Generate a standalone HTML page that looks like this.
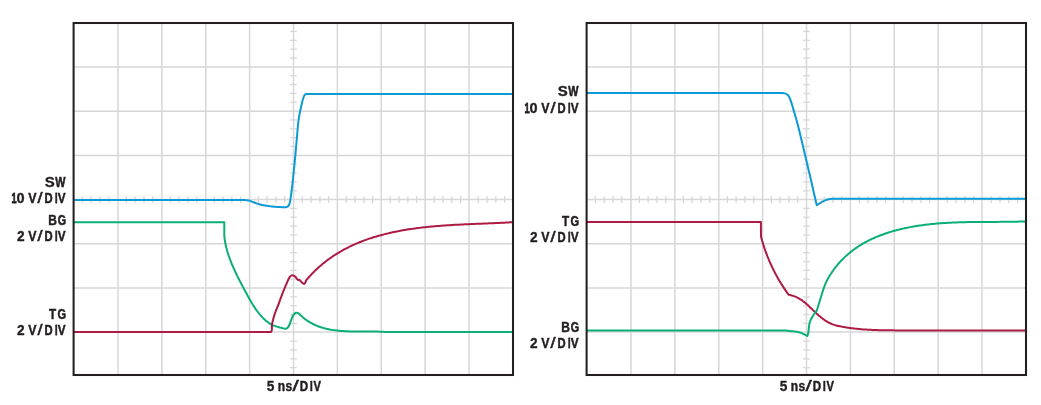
<!DOCTYPE html>
<html><head><meta charset="utf-8"><title>Switching waveforms</title>
<style>
html,body{margin:0;padding:0;background:#fff;}
body{width:1041px;height:405px;overflow:hidden;font-family:"Liberation Sans",sans-serif;}
svg{display:block;will-change:transform;}
</style></head><body>
<svg width="1041" height="405" viewBox="0 0 1041 405"><rect width="1041" height="405" fill="#fff"/><g stroke="#d7d7da" stroke-width="1.50" fill="none"><line x1="118.02" y1="23.00" x2="118.02" y2="375.00"/><line x1="161.89" y1="23.00" x2="161.89" y2="375.00"/><line x1="205.76" y1="23.00" x2="205.76" y2="375.00"/><line x1="249.63" y1="23.00" x2="249.63" y2="375.00"/><line x1="293.50" y1="23.00" x2="293.50" y2="375.00"/><line x1="337.37" y1="23.00" x2="337.37" y2="375.00"/><line x1="381.24" y1="23.00" x2="381.24" y2="375.00"/><line x1="425.11" y1="23.00" x2="425.11" y2="375.00"/><line x1="468.98" y1="23.00" x2="468.98" y2="375.00"/><line x1="74.15" y1="67.10" x2="512.85" y2="67.10"/><line x1="74.15" y1="111.26" x2="512.85" y2="111.26"/><line x1="74.15" y1="155.42" x2="512.85" y2="155.42"/><line x1="74.15" y1="199.58" x2="512.85" y2="199.58"/><line x1="74.15" y1="243.74" x2="512.85" y2="243.74"/><line x1="74.15" y1="287.90" x2="512.85" y2="287.90"/><line x1="74.15" y1="332.06" x2="512.85" y2="332.06"/></g><g stroke="#d7d7da" stroke-width="1.3" fill="none"><line x1="82.40" y1="196.13" x2="82.40" y2="203.03"/><line x1="91.19" y1="196.13" x2="91.19" y2="203.03"/><line x1="99.99" y1="196.13" x2="99.99" y2="203.03"/><line x1="108.78" y1="196.13" x2="108.78" y2="203.03"/><line x1="126.38" y1="196.13" x2="126.38" y2="203.03"/><line x1="135.17" y1="196.13" x2="135.17" y2="203.03"/><line x1="143.97" y1="196.13" x2="143.97" y2="203.03"/><line x1="152.76" y1="196.13" x2="152.76" y2="203.03"/><line x1="170.36" y1="196.13" x2="170.36" y2="203.03"/><line x1="179.15" y1="196.13" x2="179.15" y2="203.03"/><line x1="187.95" y1="196.13" x2="187.95" y2="203.03"/><line x1="196.74" y1="196.13" x2="196.74" y2="203.03"/><line x1="214.34" y1="196.13" x2="214.34" y2="203.03"/><line x1="223.13" y1="196.13" x2="223.13" y2="203.03"/><line x1="231.93" y1="196.13" x2="231.93" y2="203.03"/><line x1="240.72" y1="196.13" x2="240.72" y2="203.03"/><line x1="258.32" y1="196.13" x2="258.32" y2="203.03"/><line x1="267.11" y1="196.13" x2="267.11" y2="203.03"/><line x1="275.91" y1="196.13" x2="275.91" y2="203.03"/><line x1="284.70" y1="196.13" x2="284.70" y2="203.03"/><line x1="302.30" y1="196.13" x2="302.30" y2="203.03"/><line x1="311.09" y1="196.13" x2="311.09" y2="203.03"/><line x1="319.89" y1="196.13" x2="319.89" y2="203.03"/><line x1="328.68" y1="196.13" x2="328.68" y2="203.03"/><line x1="346.28" y1="196.13" x2="346.28" y2="203.03"/><line x1="355.07" y1="196.13" x2="355.07" y2="203.03"/><line x1="363.87" y1="196.13" x2="363.87" y2="203.03"/><line x1="372.66" y1="196.13" x2="372.66" y2="203.03"/><line x1="390.26" y1="196.13" x2="390.26" y2="203.03"/><line x1="399.05" y1="196.13" x2="399.05" y2="203.03"/><line x1="407.85" y1="196.13" x2="407.85" y2="203.03"/><line x1="416.64" y1="196.13" x2="416.64" y2="203.03"/><line x1="434.24" y1="196.13" x2="434.24" y2="203.03"/><line x1="443.03" y1="196.13" x2="443.03" y2="203.03"/><line x1="451.83" y1="196.13" x2="451.83" y2="203.03"/><line x1="460.62" y1="196.13" x2="460.62" y2="203.03"/><line x1="478.22" y1="196.13" x2="478.22" y2="203.03"/><line x1="487.01" y1="196.13" x2="487.01" y2="203.03"/><line x1="495.81" y1="196.13" x2="495.81" y2="203.03"/><line x1="504.60" y1="196.13" x2="504.60" y2="203.03"/><line x1="290.15" y1="31.47" x2="296.85" y2="31.47"/><line x1="290.15" y1="40.32" x2="296.85" y2="40.32"/><line x1="290.15" y1="49.16" x2="296.85" y2="49.16"/><line x1="290.15" y1="58.01" x2="296.85" y2="58.01"/><line x1="290.15" y1="75.71" x2="296.85" y2="75.71"/><line x1="290.15" y1="84.56" x2="296.85" y2="84.56"/><line x1="290.15" y1="93.40" x2="296.85" y2="93.40"/><line x1="290.15" y1="102.25" x2="296.85" y2="102.25"/><line x1="290.15" y1="119.95" x2="296.85" y2="119.95"/><line x1="290.15" y1="128.80" x2="296.85" y2="128.80"/><line x1="290.15" y1="137.64" x2="296.85" y2="137.64"/><line x1="290.15" y1="146.49" x2="296.85" y2="146.49"/><line x1="290.15" y1="164.19" x2="296.85" y2="164.19"/><line x1="290.15" y1="173.04" x2="296.85" y2="173.04"/><line x1="290.15" y1="181.88" x2="296.85" y2="181.88"/><line x1="290.15" y1="190.73" x2="296.85" y2="190.73"/><line x1="290.15" y1="208.43" x2="296.85" y2="208.43"/><line x1="290.15" y1="217.28" x2="296.85" y2="217.28"/><line x1="290.15" y1="226.12" x2="296.85" y2="226.12"/><line x1="290.15" y1="234.97" x2="296.85" y2="234.97"/><line x1="290.15" y1="252.67" x2="296.85" y2="252.67"/><line x1="290.15" y1="261.52" x2="296.85" y2="261.52"/><line x1="290.15" y1="270.36" x2="296.85" y2="270.36"/><line x1="290.15" y1="279.21" x2="296.85" y2="279.21"/><line x1="290.15" y1="296.91" x2="296.85" y2="296.91"/><line x1="290.15" y1="305.76" x2="296.85" y2="305.76"/><line x1="290.15" y1="314.60" x2="296.85" y2="314.60"/><line x1="290.15" y1="323.45" x2="296.85" y2="323.45"/><line x1="290.15" y1="341.15" x2="296.85" y2="341.15"/><line x1="290.15" y1="350.00" x2="296.85" y2="350.00"/><line x1="290.15" y1="358.84" x2="296.85" y2="358.84"/><line x1="290.15" y1="367.69" x2="296.85" y2="367.69"/></g><g stroke="#d7d7da" stroke-width="1.50" fill="none"><line x1="631.02" y1="23.00" x2="631.02" y2="375.00"/><line x1="674.89" y1="23.00" x2="674.89" y2="375.00"/><line x1="718.76" y1="23.00" x2="718.76" y2="375.00"/><line x1="762.63" y1="23.00" x2="762.63" y2="375.00"/><line x1="806.50" y1="23.00" x2="806.50" y2="375.00"/><line x1="850.37" y1="23.00" x2="850.37" y2="375.00"/><line x1="894.24" y1="23.00" x2="894.24" y2="375.00"/><line x1="938.11" y1="23.00" x2="938.11" y2="375.00"/><line x1="981.98" y1="23.00" x2="981.98" y2="375.00"/><line x1="587.15" y1="67.10" x2="1025.85" y2="67.10"/><line x1="587.15" y1="111.26" x2="1025.85" y2="111.26"/><line x1="587.15" y1="155.42" x2="1025.85" y2="155.42"/><line x1="587.15" y1="199.58" x2="1025.85" y2="199.58"/><line x1="587.15" y1="243.74" x2="1025.85" y2="243.74"/><line x1="587.15" y1="287.90" x2="1025.85" y2="287.90"/><line x1="587.15" y1="332.06" x2="1025.85" y2="332.06"/></g><g stroke="#d7d7da" stroke-width="1.3" fill="none"><line x1="595.40" y1="196.13" x2="595.40" y2="203.03"/><line x1="604.19" y1="196.13" x2="604.19" y2="203.03"/><line x1="612.99" y1="196.13" x2="612.99" y2="203.03"/><line x1="621.78" y1="196.13" x2="621.78" y2="203.03"/><line x1="639.38" y1="196.13" x2="639.38" y2="203.03"/><line x1="648.17" y1="196.13" x2="648.17" y2="203.03"/><line x1="656.97" y1="196.13" x2="656.97" y2="203.03"/><line x1="665.76" y1="196.13" x2="665.76" y2="203.03"/><line x1="683.36" y1="196.13" x2="683.36" y2="203.03"/><line x1="692.15" y1="196.13" x2="692.15" y2="203.03"/><line x1="700.95" y1="196.13" x2="700.95" y2="203.03"/><line x1="709.74" y1="196.13" x2="709.74" y2="203.03"/><line x1="727.34" y1="196.13" x2="727.34" y2="203.03"/><line x1="736.13" y1="196.13" x2="736.13" y2="203.03"/><line x1="744.93" y1="196.13" x2="744.93" y2="203.03"/><line x1="753.72" y1="196.13" x2="753.72" y2="203.03"/><line x1="771.32" y1="196.13" x2="771.32" y2="203.03"/><line x1="780.11" y1="196.13" x2="780.11" y2="203.03"/><line x1="788.91" y1="196.13" x2="788.91" y2="203.03"/><line x1="797.70" y1="196.13" x2="797.70" y2="203.03"/><line x1="815.30" y1="196.13" x2="815.30" y2="203.03"/><line x1="824.09" y1="196.13" x2="824.09" y2="203.03"/><line x1="832.89" y1="196.13" x2="832.89" y2="203.03"/><line x1="841.68" y1="196.13" x2="841.68" y2="203.03"/><line x1="859.28" y1="196.13" x2="859.28" y2="203.03"/><line x1="868.07" y1="196.13" x2="868.07" y2="203.03"/><line x1="876.87" y1="196.13" x2="876.87" y2="203.03"/><line x1="885.66" y1="196.13" x2="885.66" y2="203.03"/><line x1="903.26" y1="196.13" x2="903.26" y2="203.03"/><line x1="912.05" y1="196.13" x2="912.05" y2="203.03"/><line x1="920.85" y1="196.13" x2="920.85" y2="203.03"/><line x1="929.64" y1="196.13" x2="929.64" y2="203.03"/><line x1="947.24" y1="196.13" x2="947.24" y2="203.03"/><line x1="956.03" y1="196.13" x2="956.03" y2="203.03"/><line x1="964.83" y1="196.13" x2="964.83" y2="203.03"/><line x1="973.62" y1="196.13" x2="973.62" y2="203.03"/><line x1="991.22" y1="196.13" x2="991.22" y2="203.03"/><line x1="1000.01" y1="196.13" x2="1000.01" y2="203.03"/><line x1="1008.81" y1="196.13" x2="1008.81" y2="203.03"/><line x1="1017.60" y1="196.13" x2="1017.60" y2="203.03"/><line x1="803.15" y1="31.47" x2="809.85" y2="31.47"/><line x1="803.15" y1="40.32" x2="809.85" y2="40.32"/><line x1="803.15" y1="49.16" x2="809.85" y2="49.16"/><line x1="803.15" y1="58.01" x2="809.85" y2="58.01"/><line x1="803.15" y1="75.71" x2="809.85" y2="75.71"/><line x1="803.15" y1="84.56" x2="809.85" y2="84.56"/><line x1="803.15" y1="93.40" x2="809.85" y2="93.40"/><line x1="803.15" y1="102.25" x2="809.85" y2="102.25"/><line x1="803.15" y1="119.95" x2="809.85" y2="119.95"/><line x1="803.15" y1="128.80" x2="809.85" y2="128.80"/><line x1="803.15" y1="137.64" x2="809.85" y2="137.64"/><line x1="803.15" y1="146.49" x2="809.85" y2="146.49"/><line x1="803.15" y1="164.19" x2="809.85" y2="164.19"/><line x1="803.15" y1="173.04" x2="809.85" y2="173.04"/><line x1="803.15" y1="181.88" x2="809.85" y2="181.88"/><line x1="803.15" y1="190.73" x2="809.85" y2="190.73"/><line x1="803.15" y1="208.43" x2="809.85" y2="208.43"/><line x1="803.15" y1="217.28" x2="809.85" y2="217.28"/><line x1="803.15" y1="226.12" x2="809.85" y2="226.12"/><line x1="803.15" y1="234.97" x2="809.85" y2="234.97"/><line x1="803.15" y1="252.67" x2="809.85" y2="252.67"/><line x1="803.15" y1="261.52" x2="809.85" y2="261.52"/><line x1="803.15" y1="270.36" x2="809.85" y2="270.36"/><line x1="803.15" y1="279.21" x2="809.85" y2="279.21"/><line x1="803.15" y1="296.91" x2="809.85" y2="296.91"/><line x1="803.15" y1="305.76" x2="809.85" y2="305.76"/><line x1="803.15" y1="314.60" x2="809.85" y2="314.60"/><line x1="803.15" y1="323.45" x2="809.85" y2="323.45"/><line x1="803.15" y1="341.15" x2="809.85" y2="341.15"/><line x1="803.15" y1="350.00" x2="809.85" y2="350.00"/><line x1="803.15" y1="358.84" x2="809.85" y2="358.84"/><line x1="803.15" y1="367.69" x2="809.85" y2="367.69"/></g><path d="M73.50,222.20 L224.30,222.20 L224.30,235.70 C224.35,236.20 224.38,236.70 224.44,237.20 C224.49,237.71 224.55,238.21 224.62,238.72 C224.68,239.22 224.75,239.72 224.83,240.22 C224.90,240.72 224.99,241.22 225.07,241.72 C225.16,242.22 225.25,242.71 225.34,243.21 C225.44,243.70 225.53,244.19 225.64,244.69 C225.74,245.18 225.85,245.67 225.96,246.16 C226.07,246.65 226.19,247.13 226.31,247.62 C226.43,248.11 226.56,248.59 226.69,249.08 C226.81,249.56 226.95,250.04 227.08,250.53 C227.22,251.01 227.36,251.49 227.50,251.97 C227.65,252.45 227.79,252.92 227.94,253.40 C228.09,253.88 228.25,254.35 228.41,254.83 C228.56,255.30 228.72,255.78 228.89,256.25 C229.05,256.72 229.21,257.19 229.38,257.67 C229.55,258.14 229.72,258.61 229.90,259.07 C230.07,259.54 230.25,260.01 230.43,260.48 C230.61,260.95 230.79,261.41 230.97,261.88 C231.16,262.34 231.34,262.81 231.53,263.27 C231.72,263.73 231.91,264.19 232.11,264.66 C232.30,265.12 232.49,265.58 232.69,266.04 C232.89,266.50 233.09,266.96 233.29,267.42 C233.49,267.88 233.69,268.33 233.90,268.79 C234.10,269.25 234.31,269.70 234.52,270.16 C234.72,270.62 234.93,271.07 235.15,271.53 C235.36,271.98 235.57,272.44 235.79,272.89 C236.00,273.34 236.22,273.80 236.44,274.25 C236.66,274.70 236.88,275.15 237.10,275.60 C237.32,276.05 237.55,276.50 237.77,276.96 C238.00,277.41 238.22,277.86 238.45,278.30 C238.68,278.75 238.91,279.20 239.14,279.65 C239.37,280.10 239.60,280.55 239.83,281.00 C240.07,281.44 240.30,281.89 240.53,282.34 C240.77,282.79 241.00,283.23 241.24,283.68 C241.48,284.13 241.71,284.57 241.95,285.02 C242.19,285.47 242.43,285.91 242.66,286.36 C242.90,286.80 243.14,287.25 243.38,287.70 C243.62,288.14 243.86,288.59 244.09,289.03 C244.33,289.48 244.57,289.92 244.81,290.37 C245.05,290.81 245.29,291.26 245.52,291.70 C245.76,292.15 246.00,292.59 246.24,293.03 C246.47,293.48 246.71,293.92 246.95,294.37 C247.19,294.81 247.43,295.25 247.67,295.69 C247.91,296.14 248.15,296.58 248.39,297.02 C248.63,297.46 248.87,297.90 249.12,298.34 C249.36,298.78 249.61,299.21 249.85,299.65 C250.10,300.09 250.35,300.52 250.60,300.96 C250.85,301.39 251.10,301.82 251.35,302.25 C251.61,302.68 251.86,303.11 252.12,303.54 C252.38,303.97 252.64,304.40 252.90,304.82 C253.17,305.24 253.43,305.67 253.70,306.09 C253.97,306.51 254.24,306.92 254.52,307.34 C254.79,307.76 255.07,308.17 255.36,308.58 C255.64,308.99 255.92,309.40 256.21,309.81 C256.50,310.21 256.80,310.62 257.09,311.02 C257.39,311.42 257.69,311.82 258.00,312.21 C258.30,312.61 258.61,313.00 258.93,313.39 C259.24,313.78 259.56,314.17 259.88,314.55 C260.21,314.93 260.54,315.32 260.87,315.69 C261.21,316.07 261.55,316.44 261.89,316.81 C262.24,317.18 262.58,317.55 262.94,317.91 C263.30,318.27 263.66,318.62 264.02,318.97 C264.39,319.32 264.76,319.66 265.14,320.00 C265.52,320.34 265.90,320.66 266.29,320.99 C266.68,321.30 267.08,321.62 267.48,321.92 C267.88,322.22 268.29,322.52 268.70,322.80 C269.12,323.08 269.54,323.35 269.97,323.61 C270.39,323.87 270.82,324.12 271.26,324.36 C271.70,324.59 272.15,324.81 272.60,325.03 C273.05,325.24 273.51,325.44 273.97,325.63 C274.43,325.81 274.90,325.99 275.37,326.16 C275.84,326.33 276.32,326.49 276.80,326.64 C277.28,326.79 277.77,326.93 278.25,327.06 C278.74,327.20 279.23,327.33 279.72,327.45 C280.21,327.57 280.71,327.68 281.20,327.80 C282.43,328.10 283.66,328.59 284.90,328.70 C285.63,328.76 286.57,328.74 287.10,328.30 C288.04,327.51 288.73,326.19 289.30,325.00 C290.23,323.05 290.75,320.90 291.60,318.90 C292.25,317.36 292.86,315.73 293.80,314.40 C294.32,313.66 295.19,312.92 296.00,312.70 C296.66,312.52 297.57,312.82 298.20,313.20 C299.44,313.95 300.48,315.12 301.60,316.10 C301.99,316.44 302.36,316.81 302.75,317.15 C303.13,317.49 303.53,317.82 303.93,318.15 C304.32,318.47 304.72,318.79 305.12,319.10 C305.52,319.41 305.93,319.71 306.34,320.00 C306.75,320.29 307.16,320.58 307.57,320.86 C307.99,321.14 308.40,321.41 308.82,321.67 C309.24,321.94 309.67,322.19 310.09,322.44 C310.52,322.69 310.95,322.94 311.38,323.17 C311.81,323.41 312.24,323.64 312.68,323.86 C313.12,324.08 313.55,324.30 314.00,324.51 C314.44,324.72 314.88,324.92 315.33,325.12 C315.77,325.32 316.22,325.51 316.67,325.70 C317.13,325.88 317.58,326.06 318.03,326.23 C318.49,326.41 318.95,326.58 319.41,326.74 C319.87,326.90 320.33,327.06 320.79,327.21 C321.26,327.36 321.72,327.51 322.19,327.65 C322.66,327.79 323.13,327.92 323.60,328.05 C324.07,328.19 324.55,328.31 325.02,328.43 C325.50,328.55 325.98,328.67 326.45,328.78 C326.93,328.89 327.41,329.00 327.89,329.10 C328.38,329.20 328.86,329.30 329.35,329.40 C329.83,329.49 330.32,329.58 330.80,329.67 C331.29,329.75 331.78,329.83 332.27,329.91 C332.76,329.99 333.25,330.06 333.75,330.13 C334.24,330.20 334.73,330.27 335.23,330.33 C335.73,330.40 336.22,330.46 336.72,330.52 C337.22,330.57 337.71,330.63 338.21,330.68 C338.71,330.73 339.21,330.77 339.71,330.82 C340.21,330.86 340.72,330.91 341.22,330.95 C341.72,330.98 342.23,331.02 342.73,331.06 C343.23,331.09 343.74,331.12 344.24,331.15 C344.75,331.18 345.25,331.21 345.76,331.23 C346.27,331.26 346.77,331.28 347.28,331.30 C347.79,331.32 348.30,331.34 348.80,331.36 C349.31,331.37 349.82,331.39 350.33,331.40 C350.84,331.41 351.35,331.43 351.86,331.44 C352.37,331.45 352.88,331.46 353.38,331.46 C353.89,331.47 354.40,331.48 354.91,331.48 C355.42,331.49 355.93,331.49 356.44,331.50 C356.95,331.50 357.46,331.50 357.97,331.50 C358.48,331.51 358.99,331.51 359.50,331.51 C360.01,331.51 360.52,331.51 361.03,331.51 C361.53,331.51 362.04,331.51 362.55,331.50 C363.06,331.50 363.57,331.50 364.07,331.50 C364.58,331.50 365.09,331.50 365.59,331.50 C366.10,331.50 366.61,331.49 367.11,331.49 C367.62,331.49 368.12,331.49 368.62,331.49 C369.13,331.49 369.63,331.49 370.13,331.49 C370.64,331.50 371.14,331.50 371.64,331.50 C372.14,331.50 372.64,331.51 373.14,331.51 C373.64,331.52 374.13,331.52 374.63,331.53 C375.13,331.53 375.62,331.54 376.12,331.55 C376.61,331.56 377.11,331.57 377.60,331.58 C378.09,331.60 378.58,331.61 379.08,331.63 C379.57,331.64 380.05,331.66 380.54,331.68 C381.03,331.70 381.52,331.72 382.00,331.74 C382.49,331.76 382.97,331.79 383.45,331.82 C383.93,331.84 384.42,331.87 384.90,331.90 L512.90,331.90" fill="none" stroke="#0aae77" stroke-width="2.00" stroke-linejoin="round" stroke-linecap="butt"/><path d="M73.60,332.00 L270.80,332.00 C271.00,331.83 271.29,331.72 271.40,331.50 C271.62,331.06 271.74,330.51 271.80,330.00 C271.90,329.18 271.87,328.33 271.90,327.50 C271.94,326.57 271.85,325.62 272.00,324.70 C272.32,322.72 272.77,320.74 273.30,318.80 C274.03,316.14 274.87,313.50 275.80,310.90 C276.53,308.86 277.52,306.92 278.30,304.90 C278.95,303.22 279.47,301.49 280.10,299.80 C281.37,296.42 282.66,293.05 284.00,289.70 C284.93,287.38 285.89,285.08 286.90,282.80 C287.69,281.01 288.44,279.18 289.40,277.50 C289.77,276.85 290.32,276.26 290.90,275.80 C291.29,275.49 291.83,275.22 292.30,275.20 C292.79,275.18 293.35,275.43 293.80,275.70 C294.52,276.13 295.22,276.69 295.80,277.30 C296.39,277.92 296.73,278.77 297.30,279.40 C297.57,279.70 297.97,279.87 298.30,280.10 L299.30,279.80 L300.20,280.60 C300.70,281.17 301.17,281.77 301.70,282.30 C302.17,282.77 302.65,283.25 303.20,283.60 C303.49,283.78 303.87,283.80 304.20,283.90 C304.53,283.53 304.96,283.23 305.20,282.80 C305.63,282.03 305.78,281.08 306.20,280.30 C306.45,279.84 306.87,279.49 307.21,279.09 C307.56,278.69 307.90,278.30 308.25,277.90 C308.59,277.51 308.94,277.12 309.29,276.73 C309.64,276.34 309.99,275.95 310.34,275.57 C310.70,275.19 311.05,274.81 311.41,274.43 C311.76,274.06 312.12,273.68 312.48,273.31 C312.84,272.94 313.20,272.57 313.56,272.21 C313.93,271.84 314.29,271.48 314.66,271.12 C315.02,270.76 315.39,270.40 315.76,270.05 C316.13,269.70 316.50,269.34 316.87,269.00 C317.25,268.65 317.62,268.30 318.00,267.96 C318.37,267.62 318.75,267.28 319.13,266.94 C319.51,266.60 319.89,266.27 320.27,265.94 C320.65,265.61 321.03,265.28 321.42,264.95 C321.80,264.63 322.19,264.30 322.58,263.98 C322.96,263.66 323.35,263.34 323.74,263.03 C324.13,262.71 324.53,262.40 324.92,262.09 C325.31,261.78 325.71,261.47 326.10,261.17 C326.50,260.86 326.90,260.56 327.30,260.26 C327.70,259.96 328.10,259.66 328.50,259.37 C328.90,259.08 329.30,258.78 329.71,258.49 C330.11,258.21 330.52,257.92 330.93,257.63 C331.34,257.35 331.74,257.07 332.16,256.79 C332.56,256.51 332.98,256.23 333.39,255.96 C333.80,255.68 334.22,255.41 334.63,255.14 C335.05,254.87 335.46,254.61 335.88,254.34 C336.30,254.08 336.72,253.81 337.14,253.55 C337.56,253.30 337.98,253.04 338.41,252.78 C338.83,252.53 339.25,252.28 339.68,252.02 C340.10,251.77 340.53,251.53 340.96,251.28 C341.39,251.04 341.82,250.79 342.25,250.55 C342.68,250.31 343.11,250.07 343.54,249.84 C343.97,249.60 344.41,249.36 344.84,249.13 C345.28,248.90 345.71,248.67 346.15,248.44 C346.59,248.22 347.02,247.99 347.46,247.77 C347.90,247.55 348.34,247.32 348.79,247.11 C349.23,246.89 349.67,246.67 350.11,246.46 C350.56,246.24 351.00,246.03 351.45,245.82 C351.89,245.61 352.34,245.40 352.79,245.20 C353.24,244.99 353.69,244.79 354.14,244.59 C354.59,244.39 355.04,244.19 355.49,243.99 C355.94,243.79 356.40,243.60 356.85,243.40 C357.30,243.21 357.76,243.02 358.21,242.83 C358.67,242.64 359.13,242.45 359.58,242.27 C360.04,242.08 360.50,241.90 360.96,241.72 C361.42,241.54 361.88,241.36 362.34,241.18 C362.80,241.00 363.27,240.83 363.73,240.65 C364.19,240.48 364.66,240.31 365.12,240.14 C365.59,239.97 366.05,239.80 366.52,239.64 C366.99,239.47 367.46,239.31 367.92,239.14 C368.39,238.98 368.86,238.82 369.33,238.66 C369.80,238.50 370.27,238.35 370.74,238.19 C371.22,238.04 371.69,237.88 372.16,237.73 C372.64,237.58 373.11,237.43 373.58,237.28 C374.06,237.14 374.53,236.99 375.01,236.85 C375.49,236.70 375.96,236.56 376.44,236.42 C376.92,236.28 377.40,236.14 377.88,236.00 C378.36,235.86 378.84,235.73 379.32,235.59 C379.80,235.46 380.28,235.33 380.76,235.19 C381.24,235.06 381.72,234.93 382.21,234.81 C382.69,234.68 383.17,234.55 383.66,234.43 C384.14,234.30 384.63,234.18 385.11,234.06 C385.60,233.94 386.09,233.82 386.57,233.70 C387.06,233.58 387.55,233.46 388.03,233.35 C388.52,233.23 389.01,233.12 389.50,233.01 C389.99,232.90 390.48,232.79 390.97,232.68 C391.46,232.57 391.95,232.46 392.44,232.35 C392.93,232.25 393.42,232.14 393.92,232.04 C394.41,231.93 394.90,231.83 395.39,231.73 C395.89,231.63 396.38,231.53 396.88,231.43 C397.37,231.34 397.86,231.24 398.36,231.14 C398.85,231.05 399.35,230.95 399.85,230.86 C400.34,230.77 400.84,230.68 401.33,230.59 C401.83,230.50 402.33,230.41 402.83,230.32 C403.32,230.23 403.82,230.15 404.32,230.06 C404.82,229.98 405.32,229.89 405.82,229.81 C406.31,229.73 406.81,229.65 407.31,229.57 C407.81,229.49 408.31,229.41 408.81,229.33 C409.31,229.25 409.81,229.18 410.32,229.10 C410.82,229.03 411.32,228.95 411.82,228.88 C412.32,228.81 412.82,228.74 413.33,228.66 C413.83,228.59 414.33,228.52 414.83,228.46 C415.34,228.39 415.84,228.32 416.34,228.25 C416.85,228.19 417.35,228.12 417.85,228.06 C418.36,227.99 418.86,227.93 419.37,227.87 C419.87,227.80 420.38,227.74 420.88,227.68 C421.39,227.62 421.89,227.56 422.40,227.50 C422.90,227.45 423.41,227.39 423.91,227.33 C424.42,227.28 424.93,227.22 425.43,227.16 C425.94,227.11 426.45,227.06 426.95,227.00 C427.46,226.95 427.97,226.90 428.47,226.85 C428.98,226.80 429.49,226.75 430.00,226.70 C430.50,226.65 431.01,226.60 431.52,226.55 C432.03,226.50 432.53,226.46 433.04,226.41 C433.55,226.36 434.06,226.32 434.57,226.27 C435.07,226.23 435.58,226.19 436.09,226.14 C436.60,226.10 437.11,226.06 437.62,226.02 C438.12,225.97 438.63,225.93 439.14,225.89 C439.65,225.85 440.16,225.81 440.67,225.77 C441.18,225.74 441.69,225.70 442.20,225.66 C442.71,225.62 443.21,225.59 443.72,225.55 C444.23,225.51 444.74,225.48 445.25,225.44 C445.76,225.41 446.27,225.37 446.78,225.34 C447.29,225.31 447.80,225.27 448.31,225.24 C448.82,225.21 449.33,225.17 449.83,225.14 C450.34,225.11 450.85,225.08 451.36,225.05 C451.87,225.02 452.38,224.99 452.89,224.96 C453.40,224.93 453.91,224.90 454.42,224.87 C454.93,224.84 455.44,224.82 455.95,224.79 C456.45,224.76 456.96,224.73 457.47,224.71 C457.98,224.68 458.49,224.65 459.00,224.63 C459.51,224.60 460.02,224.57 460.52,224.55 C461.03,224.52 461.54,224.50 462.05,224.47 C462.56,224.45 463.07,224.43 463.57,224.40 C464.08,224.38 464.59,224.35 465.10,224.33 C465.61,224.31 466.11,224.28 466.62,224.26 C467.13,224.24 467.64,224.22 468.14,224.19 C468.65,224.17 469.16,224.15 469.66,224.13 C470.17,224.10 470.68,224.08 471.18,224.06 C471.69,224.04 472.20,224.02 472.70,224.00 C473.21,223.98 473.71,223.96 474.22,223.93 C474.73,223.91 475.23,223.89 475.74,223.87 C476.24,223.85 476.75,223.83 477.25,223.81 C477.76,223.79 478.26,223.77 478.76,223.75 C479.27,223.73 479.77,223.71 480.28,223.69 C480.78,223.67 481.28,223.65 481.79,223.63 C482.29,223.61 482.79,223.59 483.30,223.57 C483.80,223.55 484.30,223.53 484.80,223.51 C485.30,223.49 485.81,223.47 486.31,223.45 C486.81,223.43 487.31,223.41 487.81,223.39 C488.31,223.37 488.81,223.35 489.31,223.33 C489.81,223.31 490.31,223.29 490.81,223.27 C491.31,223.25 491.81,223.23 492.31,223.21 C492.80,223.19 493.30,223.17 493.80,223.15 C494.30,223.13 494.80,223.10 495.29,223.08 C495.79,223.06 496.29,223.04 496.78,223.02 C497.28,223.00 497.77,222.97 498.27,222.95 C498.77,222.93 499.26,222.91 499.75,222.88 C500.25,222.86 500.74,222.84 501.24,222.82 C501.73,222.79 502.22,222.77 502.72,222.74 C503.21,222.72 503.70,222.70 504.19,222.67 C504.68,222.65 505.18,222.62 505.67,222.60 C506.16,222.57 506.65,222.55 507.14,222.52 C507.63,222.50 508.12,222.47 508.60,222.44 C509.09,222.42 509.58,222.39 510.07,222.36 C510.56,222.33 511.04,222.30 511.53,222.28 C512.02,222.25 512.51,222.23 513.00,222.20" fill="none" stroke="#ad1a44" stroke-width="2.00" stroke-linejoin="round" stroke-linecap="butt"/><path d="M73.85,200.00 L243.25,200.00 C244.25,200.07 245.26,200.07 246.25,200.20 C247.52,200.37 248.82,200.52 250.05,200.90 C251.76,201.42 253.36,202.29 255.05,202.90 C256.66,203.49 258.29,204.06 259.95,204.50 C261.56,204.93 263.21,205.22 264.85,205.50 C266.51,205.78 268.18,206.00 269.85,206.20 C271.48,206.40 273.12,206.55 274.75,206.70 C276.38,206.85 278.01,207.00 279.65,207.10 C281.31,207.20 282.99,207.30 284.65,207.30 C285.32,207.30 286.04,207.32 286.65,207.10 C287.24,206.89 287.84,206.48 288.25,206.00 C288.81,205.35 289.27,204.52 289.55,203.70 C289.97,202.46 290.13,201.11 290.35,199.80 C290.63,198.14 290.81,196.47 291.05,194.80 C291.28,193.17 291.54,191.54 291.75,189.90 C291.97,188.24 292.16,186.57 292.35,184.90 C292.53,183.27 292.68,181.63 292.85,180.00 C293.68,171.77 294.58,163.54 295.35,155.30 C296.14,146.87 296.81,138.43 297.55,130.00 C297.75,127.77 297.89,125.53 298.15,123.30 C298.39,121.23 298.72,119.16 299.05,117.10 C299.35,115.23 299.68,113.36 300.05,111.50 C300.41,109.66 300.83,107.83 301.25,106.00 C301.63,104.33 302.01,102.66 302.45,101.00 C302.81,99.66 303.17,98.30 303.65,97.00 C303.91,96.30 304.23,95.59 304.65,95.00 C304.89,94.66 305.26,94.33 305.65,94.20 C306.29,93.99 307.05,94.02 307.75,94.00 C309.25,93.95 310.75,94.00 312.25,94.00 L513.25,94.00" fill="none" stroke="#0b9ad5" stroke-width="2.00" stroke-linejoin="round" stroke-linecap="butt"/><path d="M586.60,222.00 L760.90,222.00 L761.00,236.50 C761.12,236.98 761.24,237.47 761.37,237.95 C761.50,238.44 761.63,238.92 761.77,239.40 C761.90,239.88 762.04,240.36 762.17,240.85 C762.31,241.33 762.45,241.81 762.60,242.29 C762.74,242.77 762.88,243.25 763.03,243.73 C763.18,244.21 763.33,244.69 763.48,245.17 C763.63,245.65 763.78,246.12 763.94,246.60 C764.10,247.08 764.25,247.56 764.41,248.03 C764.58,248.51 764.74,248.99 764.90,249.46 C765.07,249.94 765.23,250.41 765.40,250.89 C765.57,251.36 765.74,251.84 765.92,252.31 C766.09,252.78 766.27,253.25 766.44,253.73 C766.62,254.20 766.80,254.67 766.98,255.14 C767.16,255.61 767.35,256.08 767.53,256.55 C767.72,257.02 767.91,257.49 768.10,257.95 C768.29,258.42 768.48,258.89 768.68,259.35 C768.87,259.82 769.07,260.29 769.27,260.75 C769.46,261.22 769.66,261.68 769.87,262.14 C770.07,262.60 770.27,263.07 770.48,263.53 C770.69,263.99 770.90,264.45 771.11,264.91 C771.32,265.37 771.53,265.83 771.75,266.28 C771.96,266.74 772.18,267.20 772.40,267.65 C772.62,268.11 772.84,268.56 773.06,269.02 C773.28,269.47 773.51,269.92 773.73,270.38 C773.96,270.83 774.19,271.28 774.42,271.73 C774.65,272.18 774.88,272.62 775.12,273.07 C775.35,273.52 775.59,273.97 775.83,274.41 C776.06,274.86 776.31,275.30 776.55,275.74 C776.79,276.19 777.03,276.63 777.28,277.07 C777.53,277.51 777.77,277.95 778.02,278.39 C778.27,278.83 778.53,279.26 778.78,279.70 C779.03,280.13 779.29,280.57 779.55,281.00 C779.80,281.44 780.06,281.87 780.32,282.30 C780.58,282.73 780.85,283.16 781.11,283.59 C781.38,284.02 781.64,284.44 781.91,284.87 C782.18,285.29 782.45,285.72 782.72,286.14 C782.99,286.56 783.27,286.98 783.54,287.40 C783.82,287.82 784.10,288.24 784.37,288.66 C784.65,289.08 784.93,289.49 785.22,289.91 C785.50,290.32 785.78,290.73 786.07,291.14 C786.36,291.56 786.64,291.97 786.93,292.37 C787.22,292.78 787.51,293.19 787.81,293.59 C788.10,294.00 788.40,294.40 788.70,294.80 C789.21,294.89 789.73,294.96 790.24,295.07 C790.75,295.17 791.25,295.28 791.74,295.41 C792.23,295.54 792.72,295.69 793.20,295.84 C793.68,296.00 794.15,296.17 794.62,296.35 C795.09,296.53 795.55,296.73 796.00,296.93 C796.45,297.14 796.90,297.35 797.35,297.58 C797.79,297.80 798.23,298.04 798.66,298.29 C799.09,298.53 799.52,298.79 799.94,299.05 C800.37,299.32 800.78,299.59 801.20,299.87 C801.61,300.16 802.02,300.44 802.43,300.74 C802.83,301.04 803.24,301.34 803.63,301.65 C804.03,301.96 804.43,302.28 804.82,302.60 C805.21,302.92 805.60,303.24 805.99,303.57 C806.38,303.91 806.76,304.24 807.14,304.58 C807.52,304.92 807.90,305.27 808.28,305.61 C808.66,305.96 809.03,306.31 809.41,306.66 C809.78,307.01 810.16,307.37 810.53,307.72 C810.90,308.08 811.27,308.43 811.64,308.79 C812.01,309.15 812.38,309.50 812.75,309.86 C813.12,310.22 813.49,310.58 813.86,310.93 C814.23,311.29 814.60,311.64 814.97,312.00 C815.34,312.35 815.71,312.70 816.09,313.05 C816.46,313.39 816.83,313.74 817.21,314.08 C817.58,314.42 817.96,314.76 818.33,315.10 C818.71,315.43 819.09,315.77 819.47,316.09 C819.86,316.42 820.24,316.74 820.63,317.06 C821.01,317.38 821.40,317.69 821.79,318.00 C822.19,318.31 822.58,318.61 822.98,318.91 C823.38,319.21 823.78,319.50 824.19,319.78 C824.59,320.07 825.00,320.35 825.42,320.62 C825.83,320.89 826.25,321.16 826.67,321.41 C827.10,321.67 827.52,321.92 827.96,322.16 C828.39,322.40 828.83,322.64 829.27,322.86 C829.71,323.09 830.16,323.31 830.62,323.52 C831.07,323.73 831.53,323.93 832.00,324.12 C832.46,324.31 832.94,324.49 833.41,324.66 C833.90,324.83 834.38,324.99 834.87,325.14 C835.37,325.29 835.87,325.43 836.37,325.56 C836.88,325.69 837.40,325.80 837.92,325.91 C838.44,326.02 838.97,326.10 839.50,326.20 C839.99,326.29 840.49,326.40 840.98,326.49 C841.47,326.59 841.97,326.68 842.46,326.78 C842.96,326.87 843.45,326.95 843.95,327.04 C844.44,327.13 844.94,327.21 845.43,327.29 C845.93,327.38 846.42,327.45 846.92,327.53 C847.41,327.61 847.91,327.69 848.41,327.76 C848.90,327.83 849.40,327.90 849.90,327.97 C850.39,328.04 850.89,328.11 851.39,328.17 C851.88,328.24 852.38,328.30 852.88,328.36 C853.38,328.42 853.87,328.48 854.37,328.54 C854.87,328.60 855.37,328.65 855.87,328.71 C856.36,328.76 856.86,328.81 857.36,328.86 C857.86,328.91 858.36,328.96 858.86,329.01 C859.36,329.05 859.85,329.10 860.35,329.14 C860.85,329.19 861.35,329.23 861.85,329.27 C862.35,329.31 862.85,329.35 863.35,329.38 C863.85,329.42 864.35,329.46 864.85,329.49 C865.35,329.53 865.85,329.56 866.35,329.59 C866.85,329.62 867.35,329.65 867.85,329.68 C868.36,329.71 868.86,329.74 869.36,329.77 C869.86,329.79 870.36,329.82 870.86,329.84 C871.36,329.87 871.86,329.89 872.36,329.91 C872.86,329.93 873.37,329.95 873.87,329.97 C874.37,329.99 874.87,330.01 875.37,330.03 C875.87,330.05 876.38,330.06 876.88,330.08 C877.38,330.10 877.88,330.11 878.38,330.13 C878.88,330.14 879.39,330.15 879.89,330.17 C880.39,330.18 880.89,330.19 881.39,330.20 C881.90,330.21 882.40,330.22 882.90,330.23 C883.40,330.24 883.91,330.25 884.41,330.26 C884.91,330.27 885.41,330.28 885.91,330.28 C886.42,330.29 886.92,330.30 887.42,330.31 C887.92,330.31 888.43,330.32 888.93,330.32 C889.43,330.33 889.93,330.33 890.44,330.34 C890.94,330.34 891.44,330.35 891.94,330.35 C892.44,330.36 892.95,330.36 893.45,330.36 C893.95,330.37 894.45,330.37 894.96,330.38 C895.46,330.38 895.96,330.38 896.46,330.39 C896.96,330.39 897.47,330.39 897.97,330.39 C898.47,330.40 898.97,330.40 899.47,330.40 C899.97,330.41 900.48,330.41 900.98,330.41 C901.48,330.42 901.98,330.42 902.48,330.42 C902.98,330.43 903.49,330.43 903.99,330.44 C904.49,330.44 904.99,330.44 905.49,330.45 C905.99,330.45 906.49,330.46 907.00,330.46 C907.50,330.47 908.00,330.47 908.50,330.48 C909.00,330.49 909.50,330.49 910.00,330.50 L1026.00,330.50" fill="none" stroke="#ad1a44" stroke-width="2.00" stroke-linejoin="round" stroke-linecap="butt"/><path d="M586.60,330.50 L780.00,330.50 C781.67,330.53 783.33,330.53 785.00,330.60 C786.67,330.67 788.34,330.75 790.00,330.90 C791.34,331.02 792.67,331.22 794.00,331.40 C795.34,331.58 796.68,331.72 798.00,332.00 C799.05,332.22 800.10,332.52 801.10,332.90 C802.36,333.38 803.59,333.99 804.80,334.60 C805.65,335.03 806.47,335.53 807.30,336.00 C807.60,335.07 808.01,334.16 808.20,333.20 C808.51,331.59 808.59,329.93 808.80,328.30 C808.99,326.86 809.08,325.41 809.40,324.00 C809.72,322.61 810.13,321.21 810.70,319.90 C811.26,318.61 812.06,317.41 812.80,316.20 C813.46,315.11 814.17,314.04 814.90,313.00 C815.43,312.24 816.03,311.53 816.60,310.80 C816.77,310.33 816.95,309.86 817.11,309.38 C817.28,308.91 817.44,308.43 817.61,307.96 C817.77,307.48 817.93,307.00 818.08,306.53 C818.24,306.05 818.39,305.57 818.54,305.09 C818.69,304.61 818.84,304.13 818.99,303.65 C819.14,303.17 819.28,302.69 819.43,302.21 C819.57,301.73 819.72,301.25 819.86,300.76 C820.01,300.28 820.15,299.80 820.29,299.32 C820.43,298.84 820.57,298.35 820.72,297.87 C820.86,297.39 821.00,296.91 821.15,296.43 C821.29,295.94 821.43,295.46 821.58,294.98 C821.72,294.50 821.87,294.02 822.02,293.54 C822.17,293.06 822.31,292.58 822.47,292.10 C822.62,291.62 822.77,291.14 822.93,290.67 C823.08,290.19 823.24,289.71 823.40,289.24 C823.56,288.76 823.73,288.29 823.90,287.81 C824.06,287.34 824.23,286.87 824.41,286.40 C824.59,285.93 824.76,285.46 824.95,284.99 C825.13,284.52 825.32,284.05 825.51,283.59 C825.70,283.12 825.89,282.66 826.10,282.20 C826.33,281.72 826.58,281.25 826.83,280.77 C827.08,280.30 827.33,279.83 827.59,279.36 C827.84,278.89 828.10,278.43 828.37,277.97 C828.63,277.51 828.89,277.05 829.16,276.60 C829.43,276.15 829.70,275.70 829.98,275.25 C830.25,274.81 830.53,274.37 830.81,273.93 C831.09,273.49 831.37,273.06 831.66,272.63 C831.95,272.20 832.24,271.77 832.53,271.35 C832.82,270.93 833.12,270.51 833.41,270.09 C833.71,269.68 834.01,269.26 834.32,268.85 C834.62,268.45 834.92,268.04 835.23,267.64 C835.54,267.24 835.85,266.84 836.17,266.45 C836.48,266.05 836.80,265.66 837.12,265.27 C837.44,264.89 837.76,264.50 838.08,264.12 C838.41,263.74 838.73,263.37 839.07,262.99 C839.39,262.62 839.73,262.25 840.06,261.88 C840.40,261.52 840.73,261.15 841.07,260.79 C841.41,260.43 841.76,260.08 842.10,259.72 C842.45,259.37 842.79,259.02 843.14,258.67 C843.49,258.32 843.84,257.98 844.20,257.64 C844.55,257.30 844.91,256.96 845.27,256.63 C845.63,256.30 845.99,255.97 846.35,255.64 C846.72,255.31 847.08,254.99 847.45,254.67 C847.82,254.35 848.19,254.03 848.56,253.71 C848.94,253.40 849.31,253.09 849.69,252.78 C850.07,252.47 850.45,252.16 850.83,251.86 C851.21,251.56 851.59,251.26 851.98,250.96 C852.36,250.67 852.75,250.38 853.14,250.09 C853.53,249.80 853.92,249.51 854.32,249.22 C854.71,248.94 855.11,248.66 855.51,248.38 C855.90,248.10 856.30,247.83 856.71,247.55 C857.11,247.28 857.51,247.01 857.92,246.75 C858.32,246.48 858.73,246.22 859.14,245.95 C859.55,245.69 859.96,245.44 860.37,245.18 C860.79,244.93 861.20,244.67 861.62,244.42 C862.04,244.17 862.45,243.93 862.87,243.68 C863.29,243.44 863.72,243.20 864.14,242.96 C864.56,242.72 864.99,242.48 865.42,242.25 C865.84,242.02 866.27,241.79 866.70,241.56 C867.13,241.33 867.57,241.11 868.00,240.88 C868.43,240.66 868.87,240.44 869.30,240.22 C869.74,240.01 870.18,239.79 870.62,239.58 C871.06,239.37 871.50,239.16 871.94,238.95 C872.39,238.74 872.83,238.54 873.28,238.34 C873.72,238.14 874.17,237.94 874.62,237.74 C875.07,237.54 875.52,237.35 875.97,237.16 C876.42,236.96 876.87,236.77 877.32,236.59 C877.78,236.40 878.23,236.22 878.69,236.03 C879.15,235.85 879.61,235.67 880.06,235.49 C880.52,235.31 880.98,235.14 881.44,234.97 C881.91,234.79 882.37,234.62 882.83,234.45 C883.30,234.29 883.76,234.12 884.23,233.96 C884.69,233.79 885.16,233.63 885.63,233.47 C886.10,233.31 886.57,233.15 887.04,233.00 C887.51,232.84 887.98,232.69 888.45,232.54 C888.92,232.39 889.40,232.24 889.87,232.09 C890.35,231.95 890.82,231.80 891.30,231.66 C891.77,231.52 892.25,231.38 892.73,231.24 C893.21,231.10 893.69,230.97 894.17,230.83 C894.65,230.70 895.13,230.57 895.61,230.44 C896.09,230.31 896.57,230.18 897.06,230.05 C897.54,229.93 898.02,229.80 898.51,229.68 C898.99,229.56 899.48,229.44 899.96,229.32 C900.45,229.20 900.94,229.09 901.42,228.97 C901.91,228.86 902.40,228.75 902.89,228.64 C903.38,228.53 903.86,228.42 904.35,228.31 C904.84,228.20 905.33,228.10 905.83,227.99 C906.32,227.89 906.81,227.79 907.30,227.69 C907.79,227.59 908.28,227.49 908.78,227.39 C909.27,227.30 909.76,227.20 910.26,227.11 C910.75,227.02 911.24,226.93 911.74,226.84 C912.23,226.75 912.73,226.66 913.22,226.57 C913.72,226.49 914.21,226.40 914.71,226.32 C915.21,226.24 915.70,226.15 916.20,226.07 C916.70,225.99 917.19,225.92 917.69,225.84 C918.19,225.76 918.69,225.69 919.19,225.61 C919.68,225.54 920.18,225.47 920.68,225.40 C921.18,225.33 921.68,225.26 922.18,225.19 C922.68,225.12 923.18,225.05 923.68,224.99 C924.18,224.92 924.68,224.86 925.18,224.80 C925.68,224.74 926.18,224.67 926.68,224.61 C927.19,224.56 927.69,224.50 928.19,224.44 C928.69,224.38 929.19,224.33 929.70,224.27 C930.20,224.22 930.70,224.17 931.20,224.11 C931.71,224.06 932.21,224.01 932.71,223.96 C933.22,223.91 933.72,223.87 934.23,223.82 C934.73,223.77 935.23,223.73 935.74,223.68 C936.24,223.64 936.75,223.59 937.25,223.55 C937.76,223.51 938.26,223.47 938.77,223.43 C939.27,223.39 939.78,223.35 940.28,223.31 C940.79,223.27 941.29,223.24 941.80,223.20 C942.30,223.16 942.81,223.13 943.32,223.10 C943.82,223.06 944.33,223.03 944.83,223.00 C945.34,222.97 945.85,222.93 946.35,222.90 C946.86,222.87 947.37,222.85 947.87,222.82 C948.38,222.79 948.89,222.76 949.40,222.74 C949.90,222.71 950.41,222.68 950.92,222.66 C951.42,222.64 951.93,222.61 952.44,222.59 C952.95,222.57 953.45,222.54 953.96,222.52 C954.47,222.50 954.98,222.48 955.48,222.46 C955.99,222.44 956.50,222.42 957.01,222.40 C957.51,222.39 958.02,222.37 958.53,222.35 C959.04,222.33 959.54,222.32 960.05,222.30 C960.56,222.29 961.07,222.27 961.57,222.26 C962.08,222.24 962.59,222.23 963.10,222.22 C963.60,222.20 964.11,222.19 964.62,222.18 C965.13,222.17 965.63,222.16 966.14,222.15 C966.65,222.13 967.16,222.12 967.66,222.11 C968.17,222.11 968.68,222.10 969.19,222.09 C969.69,222.08 970.20,222.07 970.71,222.06 C971.21,222.05 971.72,222.05 972.23,222.04 C972.73,222.03 973.24,222.03 973.75,222.02 C974.25,222.01 974.76,222.01 975.27,222.00 C975.77,222.00 976.28,221.99 976.79,221.99 C977.29,221.98 977.80,221.98 978.30,221.97 C978.81,221.97 979.32,221.96 979.82,221.96 C980.33,221.96 980.83,221.95 981.34,221.95 C981.84,221.95 982.35,221.94 982.85,221.94 C983.36,221.94 983.86,221.94 984.37,221.93 C984.87,221.93 985.38,221.93 985.88,221.93 C986.38,221.92 986.89,221.92 987.39,221.92 C987.89,221.92 988.40,221.91 988.90,221.91 C989.40,221.91 989.91,221.91 990.41,221.91 C990.91,221.91 991.41,221.90 991.92,221.90 C992.42,221.90 992.92,221.90 993.42,221.90 C993.92,221.89 994.43,221.89 994.93,221.89 C995.43,221.89 995.93,221.89 996.43,221.89 C996.93,221.88 997.43,221.88 997.93,221.88 C998.43,221.88 998.93,221.87 999.43,221.87 C999.93,221.87 1000.43,221.87 1000.92,221.86 C1001.42,221.86 1001.92,221.86 1002.42,221.85 C1002.92,221.85 1003.41,221.85 1003.91,221.84 C1004.41,221.84 1004.90,221.84 1005.40,221.83 C1005.90,221.83 1006.39,221.82 1006.89,221.82 C1007.38,221.81 1007.88,221.81 1008.37,221.80 C1008.87,221.80 1009.36,221.79 1009.86,221.78 C1010.35,221.78 1010.84,221.77 1011.34,221.76 C1011.83,221.76 1012.32,221.75 1012.82,221.74 C1013.31,221.73 1013.80,221.72 1014.29,221.72 C1014.78,221.71 1015.27,221.70 1015.76,221.69 C1016.25,221.68 1016.74,221.67 1017.23,221.66 C1017.72,221.65 1018.21,221.63 1018.70,221.62 C1019.19,221.61 1019.68,221.60 1020.16,221.58 C1020.65,221.57 1021.14,221.56 1021.63,221.54 C1022.11,221.53 1022.60,221.51 1023.08,221.50 C1023.57,221.48 1024.05,221.47 1024.54,221.45 C1025.03,221.43 1025.51,221.42 1026.00,221.40" fill="none" stroke="#0aae77" stroke-width="2.00" stroke-linejoin="round" stroke-linecap="butt"/><path d="M586.60,93.00 L781.00,93.00 C782.27,93.13 783.57,93.11 784.80,93.40 C785.57,93.58 786.37,93.92 787.00,94.40 C787.77,94.99 788.51,95.76 789.00,96.60 C789.74,97.86 790.18,99.31 790.70,100.70 C791.25,102.18 791.73,103.69 792.20,105.20 C792.73,106.92 793.20,108.67 793.70,110.40 C794.20,112.13 794.70,113.87 795.20,115.60 C795.70,117.30 796.22,118.99 796.70,120.70 C797.19,122.43 797.65,124.16 798.10,125.90 C798.45,127.26 798.77,128.63 799.10,130.00 C801.11,138.40 803.10,146.80 805.10,155.20 C806.27,160.13 807.43,165.07 808.60,170.00 C809.39,173.33 810.23,176.66 811.00,180.00 C812.00,184.33 812.90,188.67 813.90,193.00 C814.84,197.07 815.83,201.13 816.80,205.20 C817.40,204.87 818.02,204.56 818.60,204.20 C819.62,203.56 820.57,202.82 821.60,202.20 C822.71,201.52 823.82,200.81 825.00,200.30 C826.12,199.81 827.31,199.43 828.50,199.20 C829.91,198.93 831.36,198.86 832.80,198.80 C835.20,198.70 837.60,198.73 840.00,198.70 L1026.00,198.70" fill="none" stroke="#0b9ad5" stroke-width="2.00" stroke-linejoin="round" stroke-linecap="butt"/><rect x="73.60" y="23.00" width="439.40" height="352.00" fill="none" stroke="#231f20" stroke-width="2.05"/><rect x="586.60" y="23.00" width="439.40" height="352.00" fill="none" stroke="#231f20" stroke-width="2.05"/><g font-family="'Liberation Sans', sans-serif" font-weight="700" font-size="13.8px" fill="#231f20" stroke="#231f20" stroke-width="0.30" stroke-linejoin="round" style="vector-effect:non-scaling-stroke"><g aria-label="SW"><text vector-effect="non-scaling-stroke" stroke-width="0.30" transform="translate(44.82,186.50) scale(1.089,1)">S</text><text vector-effect="non-scaling-stroke" stroke-width="0.52" transform="translate(55.34,186.50) scale(0.785,1)">W</text></g><g aria-label="10 V/DIV"><text vector-effect="non-scaling-stroke" stroke-width="0.64" transform="translate(11.61,202.70) scale(0.660,1)">1</text><text vector-effect="non-scaling-stroke" stroke-width="0.30" transform="translate(16.58,202.70) scale(1.051,1)">0</text><text vector-effect="non-scaling-stroke" stroke-width="0.40" transform="translate(28.37,202.70) scale(0.898,1)">V</text><text vector-effect="non-scaling-stroke" stroke-width="0.60" font-weight="400" transform="translate(37.57,202.70) scale(1.319,1)">/</text><text vector-effect="non-scaling-stroke" stroke-width="0.48" transform="translate(44.50,202.70) scale(0.815,1)">D</text><text vector-effect="non-scaling-stroke" stroke-width="0.64" transform="translate(54.93,202.70) scale(0.660,1)">I</text><text vector-effect="non-scaling-stroke" stroke-width="0.45" transform="translate(57.77,202.70) scale(0.854,1)">V</text></g><g aria-label="BG"><text vector-effect="non-scaling-stroke" stroke-width="0.43" transform="translate(48.25,225.00) scale(0.867,1)">B</text><text vector-effect="non-scaling-stroke" stroke-width="0.52" transform="translate(57.81,225.00) scale(0.784,1)">G</text></g><g aria-label="2 V/DIV"><text vector-effect="non-scaling-stroke" stroke-width="0.31" transform="translate(16.97,241.20) scale(0.993,1)">2</text><text vector-effect="non-scaling-stroke" stroke-width="0.40" transform="translate(28.37,241.20) scale(0.898,1)">V</text><text vector-effect="non-scaling-stroke" stroke-width="0.60" font-weight="400" transform="translate(37.57,241.20) scale(1.319,1)">/</text><text vector-effect="non-scaling-stroke" stroke-width="0.48" transform="translate(44.50,241.20) scale(0.815,1)">D</text><text vector-effect="non-scaling-stroke" stroke-width="0.64" transform="translate(54.93,241.20) scale(0.660,1)">I</text><text vector-effect="non-scaling-stroke" stroke-width="0.45" transform="translate(57.77,241.20) scale(0.854,1)">V</text></g><g aria-label="TG"><text vector-effect="non-scaling-stroke" stroke-width="0.45" transform="translate(49.12,318.90) scale(0.849,1)">T</text><text vector-effect="non-scaling-stroke" stroke-width="0.49" transform="translate(57.59,318.90) scale(0.805,1)">G</text></g><g aria-label="2 V/DIV"><text vector-effect="non-scaling-stroke" stroke-width="0.31" transform="translate(16.97,335.20) scale(0.993,1)">2</text><text vector-effect="non-scaling-stroke" stroke-width="0.40" transform="translate(28.37,335.20) scale(0.898,1)">V</text><text vector-effect="non-scaling-stroke" stroke-width="0.60" font-weight="400" transform="translate(37.57,335.20) scale(1.319,1)">/</text><text vector-effect="non-scaling-stroke" stroke-width="0.48" transform="translate(44.50,335.20) scale(0.815,1)">D</text><text vector-effect="non-scaling-stroke" stroke-width="0.64" transform="translate(54.93,335.20) scale(0.660,1)">I</text><text vector-effect="non-scaling-stroke" stroke-width="0.45" transform="translate(57.77,335.20) scale(0.854,1)">V</text></g><g aria-label="5 ns/DIV"><text vector-effect="non-scaling-stroke" stroke-width="0.31" transform="translate(266.73,391.20) scale(0.990,1)">5</text><text vector-effect="non-scaling-stroke" stroke-width="0.43" transform="translate(277.76,391.20) scale(0.870,1)">n</text><text vector-effect="non-scaling-stroke" stroke-width="0.42" transform="translate(285.43,391.20) scale(0.876,1)">s</text><text vector-effect="non-scaling-stroke" stroke-width="0.60" font-weight="400" transform="translate(292.53,391.20) scale(1.627,1)">/</text><text vector-effect="non-scaling-stroke" stroke-width="0.46" transform="translate(299.78,391.20) scale(0.839,1)">D</text><text vector-effect="non-scaling-stroke" stroke-width="0.60" transform="translate(309.90,391.20) scale(0.704,1)">I</text><text vector-effect="non-scaling-stroke" stroke-width="0.49" transform="translate(313.47,391.20) scale(0.810,1)">V</text></g><g aria-label="SW"><text vector-effect="non-scaling-stroke" stroke-width="0.30" transform="translate(557.82,96.40) scale(1.089,1)">S</text><text vector-effect="non-scaling-stroke" stroke-width="0.52" transform="translate(568.34,96.40) scale(0.785,1)">W</text></g><g aria-label="10 V/DIV"><text vector-effect="non-scaling-stroke" stroke-width="0.64" transform="translate(524.61,112.70) scale(0.660,1)">1</text><text vector-effect="non-scaling-stroke" stroke-width="0.30" transform="translate(529.58,112.70) scale(1.051,1)">0</text><text vector-effect="non-scaling-stroke" stroke-width="0.40" transform="translate(541.37,112.70) scale(0.898,1)">V</text><text vector-effect="non-scaling-stroke" stroke-width="0.60" font-weight="400" transform="translate(550.57,112.70) scale(1.319,1)">/</text><text vector-effect="non-scaling-stroke" stroke-width="0.48" transform="translate(557.50,112.70) scale(0.815,1)">D</text><text vector-effect="non-scaling-stroke" stroke-width="0.64" transform="translate(567.93,112.70) scale(0.660,1)">I</text><text vector-effect="non-scaling-stroke" stroke-width="0.45" transform="translate(570.77,112.70) scale(0.854,1)">V</text></g><g aria-label="TG"><text vector-effect="non-scaling-stroke" stroke-width="0.45" transform="translate(562.12,225.70) scale(0.849,1)">T</text><text vector-effect="non-scaling-stroke" stroke-width="0.49" transform="translate(570.59,225.70) scale(0.805,1)">G</text></g><g aria-label="2 V/DIV"><text vector-effect="non-scaling-stroke" stroke-width="0.31" transform="translate(529.97,241.80) scale(0.993,1)">2</text><text vector-effect="non-scaling-stroke" stroke-width="0.40" transform="translate(541.37,241.80) scale(0.898,1)">V</text><text vector-effect="non-scaling-stroke" stroke-width="0.60" font-weight="400" transform="translate(550.57,241.80) scale(1.319,1)">/</text><text vector-effect="non-scaling-stroke" stroke-width="0.48" transform="translate(557.50,241.80) scale(0.815,1)">D</text><text vector-effect="non-scaling-stroke" stroke-width="0.64" transform="translate(567.93,241.80) scale(0.660,1)">I</text><text vector-effect="non-scaling-stroke" stroke-width="0.45" transform="translate(570.77,241.80) scale(0.854,1)">V</text></g><g aria-label="BG"><text vector-effect="non-scaling-stroke" stroke-width="0.43" transform="translate(561.25,331.90) scale(0.867,1)">B</text><text vector-effect="non-scaling-stroke" stroke-width="0.52" transform="translate(570.81,331.90) scale(0.784,1)">G</text></g><g aria-label="2 V/DIV"><text vector-effect="non-scaling-stroke" stroke-width="0.31" transform="translate(529.97,348.20) scale(0.993,1)">2</text><text vector-effect="non-scaling-stroke" stroke-width="0.40" transform="translate(541.37,348.20) scale(0.898,1)">V</text><text vector-effect="non-scaling-stroke" stroke-width="0.60" font-weight="400" transform="translate(550.57,348.20) scale(1.319,1)">/</text><text vector-effect="non-scaling-stroke" stroke-width="0.48" transform="translate(557.50,348.20) scale(0.815,1)">D</text><text vector-effect="non-scaling-stroke" stroke-width="0.64" transform="translate(567.93,348.20) scale(0.660,1)">I</text><text vector-effect="non-scaling-stroke" stroke-width="0.45" transform="translate(570.77,348.20) scale(0.854,1)">V</text></g><g aria-label="5 ns/DIV"><text vector-effect="non-scaling-stroke" stroke-width="0.31" transform="translate(779.73,391.20) scale(0.990,1)">5</text><text vector-effect="non-scaling-stroke" stroke-width="0.43" transform="translate(790.76,391.20) scale(0.870,1)">n</text><text vector-effect="non-scaling-stroke" stroke-width="0.42" transform="translate(798.43,391.20) scale(0.876,1)">s</text><text vector-effect="non-scaling-stroke" stroke-width="0.60" font-weight="400" transform="translate(805.53,391.20) scale(1.627,1)">/</text><text vector-effect="non-scaling-stroke" stroke-width="0.46" transform="translate(812.78,391.20) scale(0.839,1)">D</text><text vector-effect="non-scaling-stroke" stroke-width="0.60" transform="translate(822.90,391.20) scale(0.704,1)">I</text><text vector-effect="non-scaling-stroke" stroke-width="0.49" transform="translate(826.47,391.20) scale(0.810,1)">V</text></g></g></svg>
</body></html>
